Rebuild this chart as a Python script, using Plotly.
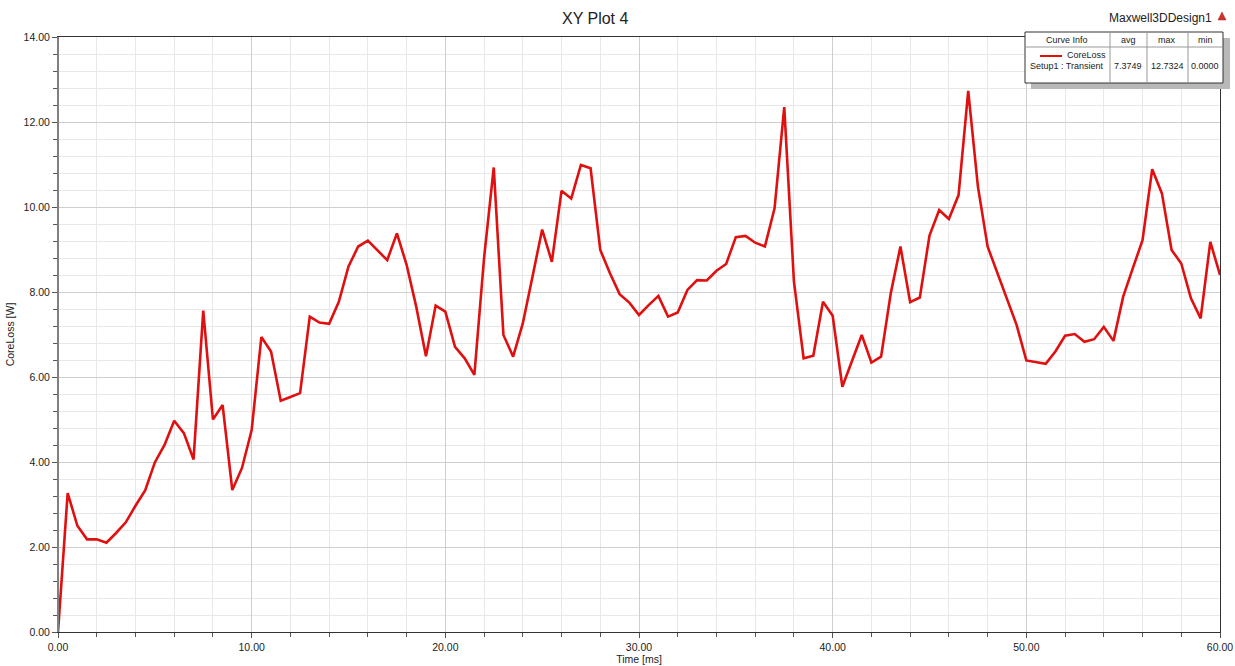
import plotly.graph_objects as go

time_ms = [i * 0.5 for i in range(121)]
core_loss = [
    0.00, 3.27, 2.50, 2.18, 2.18, 2.10, 2.33, 2.58, 2.97, 3.33,
    3.99, 4.40, 4.97, 4.68, 4.06, 7.56, 5.00, 5.34, 3.34, 3.86,
    4.75, 6.94, 6.60, 5.44, 5.53, 5.62, 7.42, 7.28, 7.25, 7.77,
    8.60, 9.07, 9.21, 8.99, 8.75, 9.38, 8.64, 7.65, 6.49, 7.68,
    7.54, 6.71, 6.44, 6.05, 8.80, 10.93, 6.99, 6.48, 7.26, 8.36,
    9.47, 8.71, 10.38, 10.20, 10.99, 10.91, 8.99, 8.44, 7.95, 7.75,
    7.46, 7.69, 7.91, 7.42, 7.52, 8.05, 8.28, 8.27, 8.50, 8.66,
    9.29, 9.32, 9.16, 9.07, 9.97, 12.35, 8.25, 6.44, 6.50, 7.77,
    7.44, 5.77, 6.36, 6.99, 6.34, 6.48, 7.97, 9.07, 7.76, 7.87,
    9.33, 9.93, 9.72, 10.28, 12.73, 10.48, 9.07, 8.47, 7.86, 7.22,
    6.39, 6.35, 6.31, 6.60, 6.97, 7.01, 6.83, 6.89, 7.18, 6.85,
    7.89, 8.56, 9.22, 10.89, 10.32, 8.99, 8.67, 7.85, 7.38, 9.18,
    8.40,
]

stat_headers = ["Curve Info", "avg", "max", "min"]
stat_values = ["7.3749", "12.7324", "0.0000"]

W, H = 1235, 666
L, R, T, B = 58, 1220, 37, 632

def px(x):
    return (x - L) / (R - L)

def py(y):
    return (B - y) / (B - T)

fig = go.Figure()
fig.add_trace(go.Scatter(
    x=time_ms, y=core_loss, mode="lines",
    line=dict(color="#e01010", width=2.6),
    name="CoreLoss", showlegend=False,
))

axis_common = dict(
    showline=True, mirror=True, linecolor="#333333", linewidth=1,
    ticks="outside", ticklen=5, tickcolor="#555555",
    gridcolor="#cfcfcf", gridwidth=1,
    tickfont=dict(family="Liberation Sans, Arial", size=10.5, color="#222222"),
    zeroline=False, automargin=False,
)

fig.update_xaxes(
    range=[0, 60], dtick=10, tick0=0, tickformat=".2f",
    minor=dict(dtick=2, showgrid=True, gridcolor="#e8e8e8", ticks="outside", ticklen=4, tickcolor="#555555"),
    title=dict(text="Time [ms]", font=dict(family="Liberation Sans, Arial", size=10.5, color="#222222"), standoff=2),
    **axis_common,
)
fig.update_yaxes(
    range=[0, 14], dtick=2, tick0=0, tickformat=".2f",
    minor=dict(dtick=0.4, showgrid=True, gridcolor="#e8e8e8", ticks="outside", ticklen=4, tickcolor="#555555"),
    title=dict(text="CoreLoss [W]", font=dict(family="Liberation Sans, Arial", size=10.5, color="#222222"), standoff=6),
    **axis_common,
)

shapes = []
annotations = []

# thicker gray left axis
shapes.append(dict(type="line", xref="paper", yref="paper", x0=0, x1=0, y0=0, y1=1,
                   line=dict(color="#808080", width=2)))

# legend table with shadow
bx0, bx1, by0, by1 = 1025, 1223, 32, 83
shapes.append(dict(type="rect", xref="paper", yref="paper",
                   x0=px(bx0 + 6), x1=px(bx1 + 7), y0=py(by1 + 6), y1=py(by0 + 6),
                   fillcolor="#b8b8b8", line=dict(width=0), layer="above"))
shapes.append(dict(type="rect", xref="paper", yref="paper",
                   x0=px(bx0), x1=px(bx1), y0=py(by1), y1=py(by0),
                   fillcolor="white", line=dict(color="#333333", width=1), layer="above"))
shapes.append(dict(type="line", xref="paper", yref="paper",
                   x0=px(bx0), x1=px(bx1), y0=py(47), y1=py(47),
                   line=dict(color="#999999", width=1), layer="above"))
for cx in [1110, 1147, 1188]:
    shapes.append(dict(type="line", xref="paper", yref="paper",
                       x0=px(cx), x1=px(cx), y0=py(by1), y1=py(by0),
                       line=dict(color="#999999", width=1), layer="above"))
# legend line sample
shapes.append(dict(type="line", xref="paper", yref="paper",
                   x0=px(1040), x1=px(1062), y0=py(56), y1=py(56),
                   line=dict(color="#e01010", width=2), layer="above"))

tfont = dict(family="Liberation Sans, Arial", size=9, color="#222222")
col_centers = [1067, 1128, 1167, 1205]
for cx, txt in zip(col_centers, stat_headers):
    annotations.append(dict(text=txt, x=px(cx), y=py(40), xref="paper", yref="paper",
                            showarrow=False, font=tfont, xanchor="center", yanchor="middle"))
annotations.append(dict(text="CoreLoss", x=px(1086), y=py(55), xref="paper", yref="paper",
                        showarrow=False, font=tfont, xanchor="center", yanchor="middle"))
annotations.append(dict(text="Setup1 : Transient", x=px(1067), y=py(66), xref="paper", yref="paper",
                        showarrow=False, font=tfont, xanchor="center", yanchor="middle"))
for cx, txt in zip(col_centers[1:], stat_values):
    annotations.append(dict(text=txt, x=px(cx), y=py(66), xref="paper", yref="paper",
                            showarrow=False, font=tfont, xanchor="center", yanchor="middle"))

# header texts
annotations.append(dict(text="Maxwell3DDesign1", x=px(1160), y=py(18), xref="paper", yref="paper",
                        showarrow=False, font=dict(family="Liberation Sans, Arial", size=12, color="#222222"),
                        xanchor="center", yanchor="middle"))
shapes.append(dict(type="path", xref="paper", yref="paper",
                   path=f"M {px(1218)},{py(20)} L {px(1226)},{py(20)} L {px(1222)},{py(12)} Z",
                   fillcolor="#d03030", line=dict(color="#a02020", width=0.5)))

fig.update_layout(
    width=W, height=H,
    margin=dict(l=L, r=W - R, t=T, b=H - B, autoexpand=False),
    paper_bgcolor="white", plot_bgcolor="white",
    title=dict(text="XY Plot 4", x=px(618), xanchor="center", y=1 - 18 / H, yanchor="middle",
               font=dict(family="Liberation Sans, Arial", size=16, color="#222222")),
    shapes=shapes, annotations=annotations,
    showlegend=False,
)

fig.write_html(
    "out.html",
    config={"displayModeBar": False},
    post_script="document.body.style.margin='0';document.body.style.padding='0';document.body.style.overflow='hidden';",
)
